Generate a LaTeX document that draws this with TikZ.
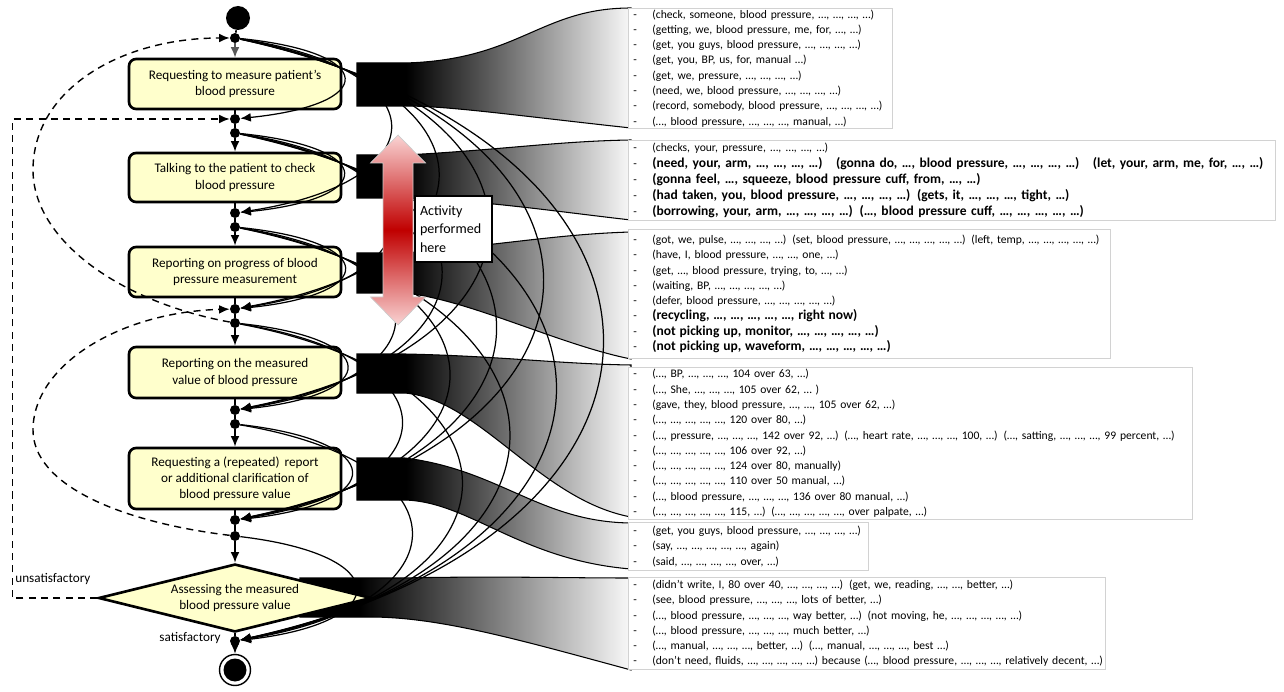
\documentclass[tikz,border=0pt]{standalone}
\usepackage{fontspec}
\setmainfont{Carlito}
\usepackage{tikz}
\usetikzlibrary{arrows.meta, shapes.geometric, positioning}

\definecolor{ActYellow}{RGB}{255,255,204}
\definecolor{DeepRed}{RGB}{192,0,0}
\definecolor{PaleRed}{RGB}{250,212,212}

\pgfdeclarehorizontalshading{bandfade}{100bp}{color(0bp)=(black); color(34bp)=(black); color(76bp)=(white); color(100bp)=(white)}

\newcommand{\utt}[1]{\makebox[0.38cm][l]{\mdseries\fontsize{6.6}{8.7}\selectfont -}\mbox{#1}}

\tikzset{
  act/.style={draw, line width=1.5pt, rounded corners=4pt, fill=ActYellow, minimum width=4.24cm, align=center, font=\fontsize{7.5}{9.2}\selectfont},
  jdot/.style={circle, fill=black, inner sep=0pt, minimum size=0.2cm},
  flow/.style={line width=0.9pt, -{Latex[length=6pt,width=5pt]}},
  link/.style={line width=0.7pt, -{Latex[length=6pt,width=5pt]}},
  loopback/.style={line width=0.8pt, dash pattern=on 4pt off 3pt, -{Latex[length=6pt,width=5pt]}},
  band/.style={shading=bandfade, draw=black, line width=0.6pt},
  tbox/.style={draw=gray!35, fill=white, anchor=north west, align=left, inner xsep=0.1cm, inner ysep=0pt, font=\fontsize{6.6}{8.7}\selectfont},
  bld/.style={font=\bfseries\fontsize{7.7}{9.2}\selectfont}
}

\begin{document}
\begin{tikzpicture}[x=0.02cm, y=-0.02cm]
\useasboundingbox (0,0) rectangle (1284,692);

% fading bands towards the utterances
\shade[band] (357,63) -- (405,63) .. controls (520,60) and (540,8) .. (631,8) -- (631,128) .. controls (520,116) and (450,106) .. (405,106) -- (357,106) -- cycle;
\shade[band] (357,155) -- (405,155) .. controls (500,150) and (560,141) .. (631,140) -- (631,220) .. controls (560,212) and (480,200) .. (405,198) -- (357,198) -- cycle;
\shade[band] (357,253) -- (405,253) .. controls (500,245) and (560,234) .. (631,232) -- (631,359) .. controls (560,345) and (470,300) .. (405,293) -- (357,293) -- cycle;
\shade[band] (357,354) -- (405,354) .. controls (500,356) and (560,364) .. (631,365) -- (631,517) .. controls (540,500) and (480,400) .. (405,393) -- (357,393) -- cycle;
\shade[band] (357,458) -- (405,458) .. controls (500,470) and (540,522) .. (631,523) -- (631,569) .. controls (520,560) and (470,502) .. (405,500) -- (357,500) -- cycle;
\shade[band] (300,578) -- (400,578) .. controls (500,576) and (560,578) .. (631,578) -- (631,670) .. controls (520,640) and (440,617) .. (370,617) -- (300,617) -- cycle;

% activities
\node[circle, fill=black, inner sep=0pt, minimum size=0.48cm] (init) at (238,18) {};
\node[jdot] (s1) at (235,38) {};
\node[act, minimum height=1cm] (a1) at (235,84) {Requesting to measure patient’s\\blood pressure};
\node[jdot] (e1) at (235,119) {};
\node[jdot] (s2) at (235,133) {};
\node[act, minimum height=0.98cm] (a2) at (235,177.5) {Talking to the patient to check\\blood pressure};
\node[jdot] (e2) at (235,213) {};
\node[jdot] (s3) at (235,227) {};
\node[act, minimum height=1cm] (a3) at (235,272) {Reporting on progress of blood\\pressure measurement};
\node[jdot] (e3) at (235,309) {};
\node[jdot] (s4) at (235,323) {};
\node[act, minimum height=1.02cm] (a4) at (235,372.5) {Reporting on the measured\\value of blood pressure};
\node[jdot] (e4) at (235,410) {};
\node[jdot] (s5) at (235,424) {};
\node[act, minimum height=1.22cm] (a5) at (235,478.5) {Requesting a (repeated)\, report\\or additional clarification of\\blood pressure value};
\node[jdot] (e5) at (235,520) {};
\node[jdot] (s6) at (235,536) {};
\node[diamond, aspect=4, draw, line width=1.5pt, fill=ActYellow, inner sep=0pt, minimum width=5.46cm, minimum height=1.36cm, align=center, font=\fontsize{7.5}{9.2}\selectfont] (dec) at (235,598) {Assessing the measured\\blood pressure value};
\node[jdot] (e6) at (235,641) {};
\node[circle, draw, line width=0.8pt, fill=white, inner sep=0pt, minimum size=0.62cm] (fin) at (235,670) {};
\node[circle, fill=black, inner sep=0pt, minimum size=0.46cm] (finin) at (fin) {};

\node[font=\fontsize{7.5}{9}\selectfont, anchor=west, inner sep=0pt] (unsat) at (15,579) {unsatisfactory};
\node[font=\fontsize{7.5}{9}\selectfont, anchor=east, inner sep=0pt] (sat) at (221,638) {satisfactory};

% main flow
\draw[line width=0.9pt] (init) -- (s1);
\draw[flow, gray!70!black] (s1) -- (a1);
\draw[line width=0.9pt] (a1) -- (e1) -- (s2);
\draw[flow] (s2) -- (a2);
\draw[line width=0.9pt] (a2) -- (e2) -- (s3);
\draw[flow] (s3) -- (a3);
\draw[line width=0.9pt] (a3) -- (e3) -- (s4);
\draw[flow] (s4) -- (a4);
\draw[line width=0.9pt] (a4) -- (e4) -- (s5);
\draw[flow] (s5) -- (a5);
\draw[line width=0.9pt] (a5) -- (e5) -- (s6);
\draw[flow] (s6) -- (dec);
\draw[line width=0.9pt] (dec) -- (e6);
\draw[flow] (e6) -- (fin);

% observed transitions
\def\sy{{38,133,227,323,424,536}}
\def\ey{{119,213,309,410,520,641}}
\foreach \i in {1,...,6}{
  \foreach \j in {\i,...,6}{
    \pgfmathsetmacro\dist{\ey[\j-1]-\sy[\i-1]}
    \pgfmathsetmacro\off{90+0.66*\dist}
    \pgfmathsetmacro\dip{0.18*\dist}
    \draw[link] (s\i) .. controls +(\off,\dip) and +(\off,-\dip) .. (e\j);
  }
}

% repetitions
\coordinate (ta) at (33,170);
\coordinate (tb) at (33,430);
\draw[loopback] (s4) .. controls (120,302) and (33,240) .. (ta) .. controls (33,90) and (120,38) .. (s1);
\draw[loopback] (s6) .. controls (120,522) and (33,485) .. (tb) .. controls (33,365) and (120,312) .. (e3);
\draw[loopback] (dec.west) -- ++(-85,0) |- (e1);

% performed activity
\shade[top color=PaleRed, bottom color=PaleRed, middle color=DeepRed, draw=gray!40, line width=0.4pt] (398,135) -- (425.5,163) -- (413,163) -- (413,297) -- (425.5,297) -- (398,325) -- (370.5,297) -- (383,297) -- (383,163) -- (370.5,163) -- cycle;
\node[draw, fill=white, line width=0.6pt, align=left, text width=1.34cm, inner xsep=0.1cm, minimum height=1.32cm, font=\fontsize{8}{10.4}\selectfont] (note) at (453.5,229) {Activity\\performed\\here};

% utterances
\node[tbox, text width=5.08cm, minimum height=2.4cm] (u1) at (628,8) {%
\utt{(check, someone, blood pressure, …, …, …, …)}\\
\utt{(getting, we, blood pressure, me, for, …, …)}\\
\utt{(get, you guys, blood pressure, …, …, …, …)}\\
\utt{(get, you, BP, us, for, manual …)}\\
\utt{(get, we, pressure, …, …, …, …)}\\
\utt{(need, we, blood pressure, …, …, …, …)}\\
\utt{(record, somebody, blood pressure, …, …, …, …)}\\
\utt{(…, blood pressure, …, …, …, manual, …)}};

\node[tbox, text width=12.74cm, minimum height=1.6cm, bld] (u2) at (628,140) {%
\utt{\mdseries\fontsize{6.6}{9.2}\selectfont(checks, your, pressure, …, …, …, …)}\\
\utt{(need, your, arm, …, …, …, …)\quad (gonna do, …, blood pressure, …, …, …, …)\quad (let, your, arm, me, for, …, …)}\\
\utt{(gonna feel, …, squeeze, blood pressure cuff, from, …, …)}\\
\utt{(had taken, you, blood pressure, …, …, …, …)\enspace (gets, it, …, …, …, tight, …)}\\
\utt{(borrowing, your, arm, …, …, …, …)\enspace (…, blood pressure cuff, …, …, …, …, …)}};

\node[tbox, text width=9.44cm, minimum height=2.58cm] (u3) at (628,229) {%
\utt{(got, we, pulse, …, …, …, …)\enspace (set, blood pressure, …, …, …, …, …)\enspace (left, temp, …, …, …, …, …)}\\
\utt{(have, I, blood pressure, …, …, one, …)}\\
\utt{(get, …, blood pressure, trying, to, …, …)}\\
\utt{(waiting, BP, …, …, …, …, …)}\\
\utt{(defer, blood pressure, …, …, …, …, …)}\\
\utt{\bfseries\fontsize{7.7}{8.7}\selectfont(recycling, …, …, …, …, …, right now)}\\
\utt{\bfseries\fontsize{7.7}{8.7}\selectfont(not picking up, monitor, …, …, …, …, …)}\\
\utt{\bfseries\fontsize{7.7}{8.7}\selectfont(not picking up, waveform, …, …, …, …, …)}};

\node[tbox, text width=11.08cm, minimum height=3.04cm] (u4) at (628,367) {%
\utt{(…, BP, …, …, …, 104 over 63, …)}\\
\utt{(…, She, …, …, …, 105 over 62, … )}\\
\utt{(gave, they, blood pressure, …, …, 105 over 62, …)}\\
\utt{(…, …, …, …, …, 120 over 80, …)}\\
\utt{(…, pressure, …, …, …, 142 over 92, …)\enspace (…, heart rate, …, …, …, 100, …)\enspace (…, satting, …, …, …, 99 percent, …)}\\
\utt{(…, …, …, …, …, 106 over 92, …)}\\
\utt{(…, …, …, …, …, 124 over 80, manually)}\\
\utt{(…, …, …, …, …, 110 over 50 manual, …)}\\
\utt{(…, blood pressure, …, …, …, 136 over 80 manual, …)}\\
\utt{(…, …, …, …, …, 115, …)\enspace (…, …, …, …, …, over palpate, …)}};

\node[tbox, text width=4.6cm, minimum height=0.96cm] (u5) at (628,522) {%
\utt{(get, you guys, blood pressure, …, …, …, …)}\\
\utt{(say, …, …, …, …, …, again)}\\
\utt{(said, …, …, …, …, over, …)}};

\node[tbox, text width=9.34cm, minimum height=1.84cm] (u6) at (628,577) {%
\utt{(didn't write, I, 80 over 40, …, …, …, …)\enspace (get, we, reading, …, …, better, …)}\\
\utt{(see, blood pressure, …, …, …, lots of better, …)}\\
\utt{(…, blood pressure, …, …, …, way better, …)\enspace (not moving, he, …, …, …, …, …)}\\
\utt{(…, blood pressure, …, …, …, much better, …)}\\
\utt{(…, manual, …, …, …, better, …)\enspace (…, manual, …, …, …, best …)}\\
\utt{(don't need, fluids, …, …, …, …, …) because (…, blood pressure, …, …, …, relatively decent, …)}};
\end{tikzpicture}
\end{document}
